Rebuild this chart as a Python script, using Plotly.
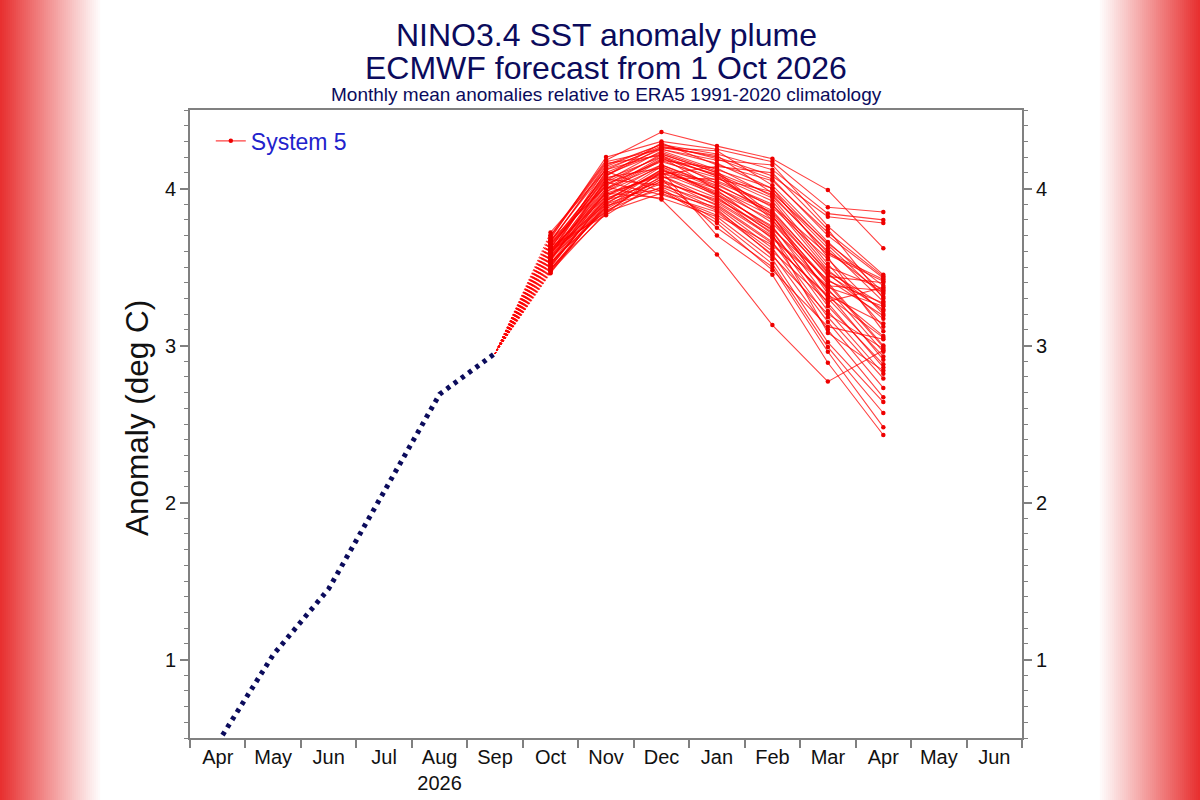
import plotly.graph_objects as go

# ---------------- data ----------------
month_labels = ["Apr", "May", "Jun", "Jul", "Aug<br>2026", "Sep", "Oct", "Nov", "Dec",
                "Jan", "Feb", "Mar", "Apr", "May", "Jun"]
month_pos = list(range(len(month_labels)))

obs_months = [0, 1, 2, 3, 4, 5]
obs_values = [0.47, 1.03, 1.45, 2.07, 2.69, 2.95]

fc_months = [6, 7, 8, 9, 10, 11, 12]
oct_vals = [3.70, 3.68, 3.66, 3.72, 3.62, 3.60, 3.58, 3.65, 3.55, 3.52,
            3.50, 3.48, 3.47, 3.56, 3.60, 3.63, 3.54, 3.58, 3.64, 3.61,
            3.57, 3.53, 3.49, 3.67, 3.51, 3.59, 3.46, 3.69, 3.55, 3.62,
            3.50, 3.57, 3.64, 3.53, 3.48, 3.66, 3.59, 3.61, 3.52, 3.56,
            3.63, 3.47, 3.70, 3.54, 3.58, 3.60, 3.51, 3.65, 3.49, 3.67, 3.55]
nov_vals = [4.18, 4.20, 4.15, 4.12, 4.10, 4.08, 4.05, 4.02, 4.00, 3.98,
            3.95, 3.92, 3.90, 3.88, 3.85, 3.83, 4.06, 4.11, 4.04, 3.97,
            3.93, 3.87, 3.84, 4.01, 3.96, 4.13, 3.91, 4.16, 3.99, 4.07,
            3.94, 4.03, 4.09, 3.86, 3.89, 4.14, 4.00, 3.95, 3.92, 4.02,
            4.06, 3.85, 4.17, 3.97, 4.04, 3.90, 3.93, 4.08, 3.88, 4.12, 3.98]
dec_vals = [4.36, 4.30, 4.28, 4.27, 4.25, 4.29, 4.24, 4.22, 4.20, 4.18,
            4.15, 4.14, 4.12, 4.10, 4.08, 4.05, 4.02, 3.98, 3.96, 3.94,
            4.00, 4.06, 4.11, 3.93, 4.09, 4.26, 4.07, 4.21, 4.19, 4.13,
            4.04, 4.17, 4.23, 4.01, 3.99, 4.28, 4.15, 4.10, 4.12, 4.18,
            4.20, 3.97, 4.25, 4.08, 4.21, 4.03, 4.11, 4.26, 4.06, 4.22, 4.14]
jan_vals = [4.27, 4.25, 4.22, 4.20, 4.18, 4.15, 4.12, 4.10, 4.08, 4.05,
            4.02, 4.00, 3.98, 3.96, 3.94, 3.92, 3.90, 3.88, 3.85, 3.82,
            3.80, 3.75, 3.70, 3.58, 4.14, 4.24, 4.06, 4.03, 4.09, 3.95,
            3.93, 4.07, 4.11, 3.86, 3.78, 4.19, 4.01, 4.00, 3.97, 4.13,
            3.99, 3.83, 4.16, 3.91, 4.08, 3.87, 4.04, 4.21, 3.89, 4.10, 3.96]
feb_vals = [4.19, 4.17, 4.12, 4.08, 4.15, 4.05, 4.00, 3.96, 3.92, 3.90,
            3.86, 3.82, 3.80, 3.76, 3.72, 3.70, 3.66, 3.62, 3.58, 3.55,
            3.52, 3.50, 3.45, 3.13, 4.10, 4.02, 3.98, 3.84, 3.94, 3.68,
            3.74, 3.88, 3.83, 3.60, 3.48, 4.06, 3.78, 3.85, 3.75, 3.95,
            3.73, 3.64, 4.00, 3.69, 3.82, 3.57, 3.89, 3.97, 3.65, 3.80, 3.71]
mar_vals = [3.99, 3.88, 3.84, 3.82, 3.76, 3.72, 3.64, 3.59, 3.50, 3.48,
            3.46, 3.39, 3.35, 3.30, 3.27, 3.22, 3.18, 3.15, 3.10, 3.02,
            2.99, 2.96, 2.89, 2.77, 3.74, 3.66, 3.62, 3.44, 3.52, 3.37,
            3.42, 3.55, 3.33, 3.28, 3.12, 3.70, 3.40, 3.47, 3.36, 3.60,
            3.25, 3.32, 3.56, 3.38, 3.45, 3.20, 3.58, 3.65, 3.31, 3.41, 3.08]
apr_vals = [3.62, 3.85, 3.80, 3.78, 3.45, 3.44, 3.31, 3.42, 3.36, 3.22,
            3.17, 2.99, 3.06, 2.93, 2.86, 2.82, 2.79, 2.73, 2.67, 2.64,
            2.57, 2.48, 2.43, 2.97, 3.30, 3.34, 3.28, 3.40, 3.12, 3.25,
            3.19, 3.20, 2.91, 3.37, 3.04, 3.43, 3.00, 3.26, 2.96, 3.33,
            2.88, 3.14, 3.09, 3.35, 3.23, 2.98, 3.41, 3.38, 3.05, 3.27, 2.84]

y_tick_vals = [1, 2, 3, 4]

title_lines = ["NINO3.4 SST anomaly plume", "ECMWF forecast from 1 Oct 2026"]
subtitle = "Monthly mean anomalies relative to ERA5 1991-2020 climatology"
y_title = "Anomaly (deg C)"

# ---------------- build traces ----------------
fc_columns = [oct_vals, nov_vals, dec_vals, jan_vals, feb_vals, mar_vals, apr_vals]
n_members = len(oct_vals)

ens_x, ens_y = [], []
link_x, link_y = [], []
for m in range(n_members):
    ens_x += fc_months + [None]
    ens_y += [col[m] for col in fc_columns] + [None]
    link_x += [obs_months[-1], fc_months[0], None]
    link_y += [obs_values[-1], oct_vals[m], None]

NAVY = "#0b0b5c"
FONT = "Liberation Sans, Arial, Helvetica, sans-serif"

fig = go.Figure()

fig.add_trace(go.Scatter(
    x=link_x, y=link_y, mode="lines",
    line=dict(color="rgba(255,0,0,0.85)", width=1, dash="1.5px,2px"),
    showlegend=False, hoverinfo="skip"))

fig.add_trace(go.Scatter(
    x=ens_x, y=ens_y, mode="lines+markers", name="System 5",
    line=dict(color="rgba(255,0,0,0.75)", width=1.1),
    marker=dict(color="#ee0000", size=4.5),
    connectgaps=False))

fig.add_trace(go.Scatter(
    x=obs_months, y=obs_values, mode="lines",
    line=dict(color=NAVY, width=5, dash="4px,5px"),
    showlegend=False, hoverinfo="skip"))

# invisible trace for right-hand axis
fig.add_trace(go.Scatter(x=[0], y=[1], yaxis="y2", mode="markers",
                         marker=dict(opacity=0), showlegend=False, hoverinfo="skip"))

# ---------------- background gradient strips ----------------
L, R, T, B = 190, 1022, 110, 738
W, H = R - L, B - T
shapes = []
nstrip = 50
for i in range(nstrip):
    t = i / nstrip
    r = int(232 + (255 - 232) * t)
    g = int(48 + (255 - 48) * t)
    b = int(48 + (255 - 48) * t)
    col = f"rgb({r},{g},{b})"
    px0, px1 = i * 2, i * 2 + 2.2
    shapes.append(dict(type="rect", xref="paper", yref="paper",
                       x0=(px0 - L) / W, x1=(px1 - L) / W, y0=-0.2, y1=1.3,
                       fillcolor=col, line=dict(width=0), layer="below"))
    qx0, qx1 = 1200 - i * 2 - 2.2, 1200 - i * 2
    shapes.append(dict(type="rect", xref="paper", yref="paper",
                       x0=(qx0 - L) / W, x1=(qx1 - L) / W, y0=-0.2, y1=1.3,
                       fillcolor=col, line=dict(width=0), layer="below"))

axis_col = "#808080"
yaxis_common = dict(
    range=[0.5, 4.5], tickmode="array", tickvals=y_tick_vals,
    ticks="outside", ticklen=8, tickwidth=1.5, tickcolor=axis_col,
    minor=dict(dtick=0.1, tick0=0, ticks="outside", ticklen=4, tickcolor=axis_col, tickwidth=1),
    showgrid=False, zeroline=False, showline=True, linecolor=axis_col, linewidth=2,
    tickfont=dict(family=FONT, size=20, color="#111111"),
    automargin=False,
)

def py(pix):
    return (B - pix) / H

def px(pix):
    return (pix - L) / W

annotations = [
    dict(text=title_lines[0], xref="paper", yref="paper", x=0.5, y=py(35),
         xanchor="center", yanchor="middle", showarrow=False,
         font=dict(family=FONT, size=32, color=NAVY)),
    dict(text=title_lines[1], xref="paper", yref="paper", x=0.5, y=py(68),
         xanchor="center", yanchor="middle", showarrow=False,
         font=dict(family=FONT, size=32, color=NAVY)),
    dict(text=subtitle, xref="paper", yref="paper", x=0.5, y=py(94),
         xanchor="center", yanchor="middle", showarrow=False,
         font=dict(family=FONT, size=19, color=NAVY)),
    dict(text=y_title, xref="paper", yref="paper", x=px(137), y=py(418),
         xanchor="center", yanchor="middle", showarrow=False, textangle=-90,
         font=dict(family=FONT, size=31.5, color="#111111")),
]

fig.update_layout(
    width=1200, height=800,
    margin=dict(l=L, r=1200 - R, t=T, b=800 - B, autoexpand=False),
    paper_bgcolor="white", plot_bgcolor="white",
    shapes=shapes,
    annotations=annotations,
    xaxis=dict(
        range=[-0.5, 14.5], tickmode="array", tickvals=month_pos, ticktext=month_labels,
        ticks="", tickfont=dict(family=FONT, size=20, color="#111111"),
        minor=dict(tickmode="array", tickvals=[p - 0.5 for p in month_pos] + [14.5],
                   ticks="outside", ticklen=8, tickcolor=axis_col, tickwidth=1.5),
        showgrid=False, zeroline=False, showline=True, linecolor=axis_col, linewidth=2,
        mirror=True, automargin=False,
    ),
    yaxis=dict(**yaxis_common),
    yaxis2=dict(**yaxis_common, overlaying="y", side="right"),
    legend=dict(x=0.025, y=0.985, xanchor="left", yanchor="top",
                bgcolor="rgba(0,0,0,0)", borderwidth=0,
                font=dict(family=FONT, size=23, color="#2222cc")),
    showlegend=True,
)

fig.write_html("out.html")
